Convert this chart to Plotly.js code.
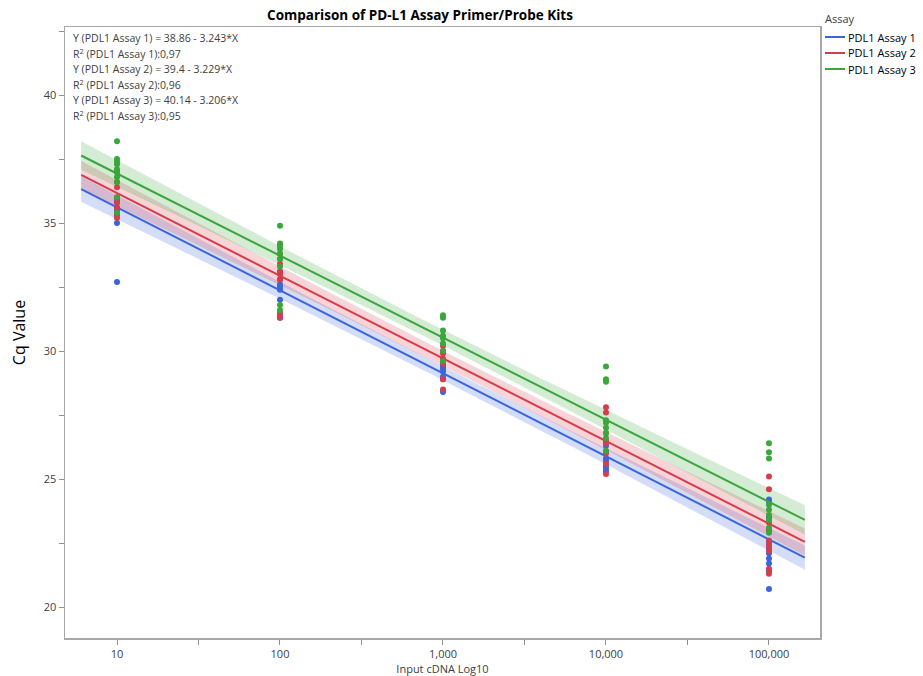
<!DOCTYPE html>
<html>
<head>
<meta charset="utf-8">
<script src="https://cdn.plot.ly/plotly-3.0.1.min.js"></script>
<style>html,body{margin:0;padding:0;background:#fff;}#chart{width:923px;height:676px;}</style>
</head>
<body>
<div id="chart"></div>
<script>
// ---- data ----
var inputLevels = [10, 100, 1000, 10000, 100000];
var tickText = ["10", "100", "1,000", "10,000", "100,000"];
var assayNames = ["PDL1 Assay 1", "PDL1 Assay 2", "PDL1 Assay 3"];
var assayColors = ["#3b66d9", "#d63c4b", "#3ba63b"];
var bandColors = ["rgba(59,102,217,0.22)", "rgba(214,60,75,0.22)", "rgba(59,166,59,0.22)"];

// Cq values per input level (10, 100, 1000, 10000, 100000)
var assay1Cq = [
  [32.7, 35.0, 35.3, 35.5, 35.6, 35.8, 35.9, 36.0],
  [31.3, 31.4, 32.0, 32.4, 32.5, 32.6, 32.8, 33.1],
  [28.4, 28.9, 29.0, 29.2, 29.3, 29.4, 29.5],
  [25.3, 25.4, 25.5, 25.7, 25.8, 26.1, 26.3],
  [20.7, 21.4, 21.7, 21.9, 22.1, 22.3, 22.5, 23.5, 24.1, 24.2]
];
var assay2Cq = [
  [35.2, 35.4, 35.6, 35.8, 36.0, 36.4, 36.6, 37.0],
  [31.3, 31.5, 32.8, 33.0, 33.1, 33.4, 33.6, 33.8],
  [28.5, 28.9, 29.5, 29.7, 29.9, 30.0, 30.2],
  [25.2, 25.6, 26.0, 26.4, 26.5, 26.8, 27.6, 27.8],
  [21.3, 21.5, 22.2, 22.4, 22.6, 23.0, 23.3, 24.6, 25.1]
];
var assay3Cq = [
  [35.4, 36.0, 36.6, 36.8, 37.0, 37.1, 37.3, 37.4, 37.5, 38.2],
  [31.6, 31.8, 33.3, 33.6, 33.8, 34.0, 34.1, 34.2, 34.9],
  [29.6, 30.0, 30.3, 30.5, 30.6, 30.8, 31.3, 31.4],
  [26.1, 26.6, 26.8, 27.0, 27.2, 27.3, 28.8, 28.9, 29.4],
  [22.9, 23.1, 23.4, 23.6, 23.8, 24.0, 25.8, 26.05, 26.4]
];
// fitted equations shown on the chart: Y = a + b*log10(X)
var fitIntercepts = [38.86, 39.4, 40.14];
var fitSlopes = [-3.243, -3.229, -3.206];
var fitR2 = ["0,97", "0,96", "0,95"];
var fitLogRange = [0.78, 5.22];

var allCq = [assay1Cq, assay2Cq, assay3Cq];

var traces = [];
var bandTraces = [];
for (var a = 0; a < 3; a++) {
  var xs = [], ys = [];
  for (var i = 0; i < inputLevels.length; i++) {
    allCq[a][i].forEach(function (v) { xs.push(inputLevels[i]); ys.push(v); });
  }
  // fit statistics for the confidence band of the fitted line
  var n = xs.length;
  var lx = xs.map(function (v) { return Math.log10(v); });
  var mx = lx.reduce(function (s, v) { return s + v; }, 0) / n;
  var sxx = lx.reduce(function (s, v) { return s + (v - mx) * (v - mx); }, 0);
  var sse = 0;
  for (var k = 0; k < n; k++) {
    var r = ys[k] - (fitIntercepts[a] + fitSlopes[a] * lx[k]);
    sse += r * r;
  }
  var s = Math.sqrt(sse / (n - 2));
  var t = 2.02;
  var lineX = [], lineY = [], upY = [], loY = [];
  var steps = 60;
  for (var j = 0; j <= steps; j++) {
    var L = fitLogRange[0] + (fitLogRange[1] - fitLogRange[0]) * j / steps;
    var yhat = fitIntercepts[a] + fitSlopes[a] * L;
    var h = t * s * Math.sqrt(1 / n + (L - mx) * (L - mx) / sxx);
    lineX.push(Math.pow(10, L)); lineY.push(yhat);
    upY.push(yhat + h); loY.push(yhat - h);
  }
  var polyX = lineX.concat(lineX.slice().reverse());
  var polyY = upY.concat(loY.slice().reverse());
  bandTraces.push({
    x: polyX, y: polyY, type: "scatter", mode: "lines", fill: "toself",
    fillcolor: bandColors[a], line: {width: 0, color: "rgba(0,0,0,0)"},
    hoverinfo: "skip", showlegend: false
  });
  traces.push({
    x: xs, y: ys, type: "scatter", mode: "markers",
    marker: {color: assayColors[a], size: 6}, showlegend: false,
    name: assayNames[a]
  });
  traces.push({
    x: lineX, y: lineY, type: "scatter", mode: "lines",
    line: {color: assayColors[a], width: 2}, name: assayNames[a], showlegend: false
  });
}

var fontFam = "'Open Sans', 'Noto Sans', sans-serif";
var plotTopPx = 27, plotH = 611, plotW = 755;
var annLines = [];
for (var a2 = 0; a2 < 3; a2++) {
  annLines.push("Y (" + assayNames[a2] + ") = " + fitIntercepts[a2] + " - " + Math.abs(fitSlopes[a2]) + "*X");
  annLines.push("R<sup>2</sup> (" + assayNames[a2] + "):" + fitR2[a2]);
}
var annotations = annLines.map(function (txt, idx) {
  return {
    text: txt, xref: "paper", yref: "paper", x: 0, y: 1, xanchor: "left", yanchor: "middle",
    xshift: 6, yshift: -(11 + idx * 15.4), showarrow: false,
    font: {family: fontFam, size: 10.5, color: "#404040"}
  };
});

// legend drawn as shapes + texts in the right margin
var shapes = [];
annotations.push({
  text: "Assay", xref: "paper", yref: "paper", x: 1, y: 1, xanchor: "left", yanchor: "middle",
  xshift: 3, yshift: 9, showarrow: false,
  font: {family: fontFam, size: 11, color: "#404040"}
});
for (var q = 0; q < 3; q++) {
  var yPx = 37 + q * 16;
  var yPaper = 1 - (yPx - plotTopPx) / plotH;
  shapes.push({
    type: "line", xref: "paper", yref: "paper",
    x0: 1 + 5 / plotW, x1: 1 + 25 / plotW, y0: yPaper, y1: yPaper,
    line: {color: assayColors[q], width: 2}
  });
  annotations.push({
    text: assayNames[q], xref: "paper", yref: "paper", x: 1 + 26 / plotW, y: yPaper,
    xanchor: "left", yanchor: "middle", showarrow: false,
    font: {family: fontFam, size: 11, color: "#000"}
  });
}

var layout = {
  width: 923, height: 676,
  margin: {l: 65, r: 103, t: 27, b: 38, autoexpand: false},
  paper_bgcolor: "#fff", plot_bgcolor: "#fff",
  font: {family: fontFam, size: 11, color: "#404040"},
  title: {
    text: "<b>Comparison of PD-L1 Assay Primer/Probe Kits</b>",
    font: {family: fontFam, size: 13.5, color: "#000"},
    x: 0.455, xref: "container", xanchor: "center",
    y: 1 - 15 / 676, yref: "container", yanchor: "middle"
  },
  xaxis: {
    type: "log", range: [0.681, 5.313],
    tickvals: inputLevels, ticktext: tickText,
    ticks: "outside", ticklen: 5, tickcolor: "#909090",
    minor: {tickvals: [31.62, 316.2, 3162, 31623], ticks: "outside", ticklen: 5, tickcolor: "#909090", showgrid: false},
    showline: true, linecolor: "#a8a8a8", linewidth: 1.5, mirror: true,
    showgrid: false, zeroline: false,
    tickfont: {family: fontFam, size: 11, color: "#404040"},
    title: {text: "Input cDNA Log10", font: {family: fontFam, size: 11, color: "#404040"}, standoff: 4}
  },
  yaxis: {
    range: [18.79, 42.66],
    tickvals: [20, 25, 30, 35, 40],
    ticks: "outside", ticklen: 5, tickcolor: "#909090",
    minor: {tickvals: [22.5, 27.5, 32.5, 37.5, 42.5], ticks: "outside", ticklen: 5, tickcolor: "#909090", showgrid: false},
    showline: true, linecolor: "#a8a8a8", linewidth: 1.5, mirror: true,
    showgrid: false, zeroline: false,
    tickfont: {family: fontFam, size: 11, color: "#404040"},
    title: {text: "Cq Value", font: {family: fontFam, size: 16, color: "#000"}, standoff: 14}
  },
  annotations: annotations,
  shapes: shapes,
  showlegend: false
};

Plotly.newPlot("chart", bandTraces.concat(traces), layout, {displayModeBar: false, staticPlot: true});
</script>
</body>
</html>
